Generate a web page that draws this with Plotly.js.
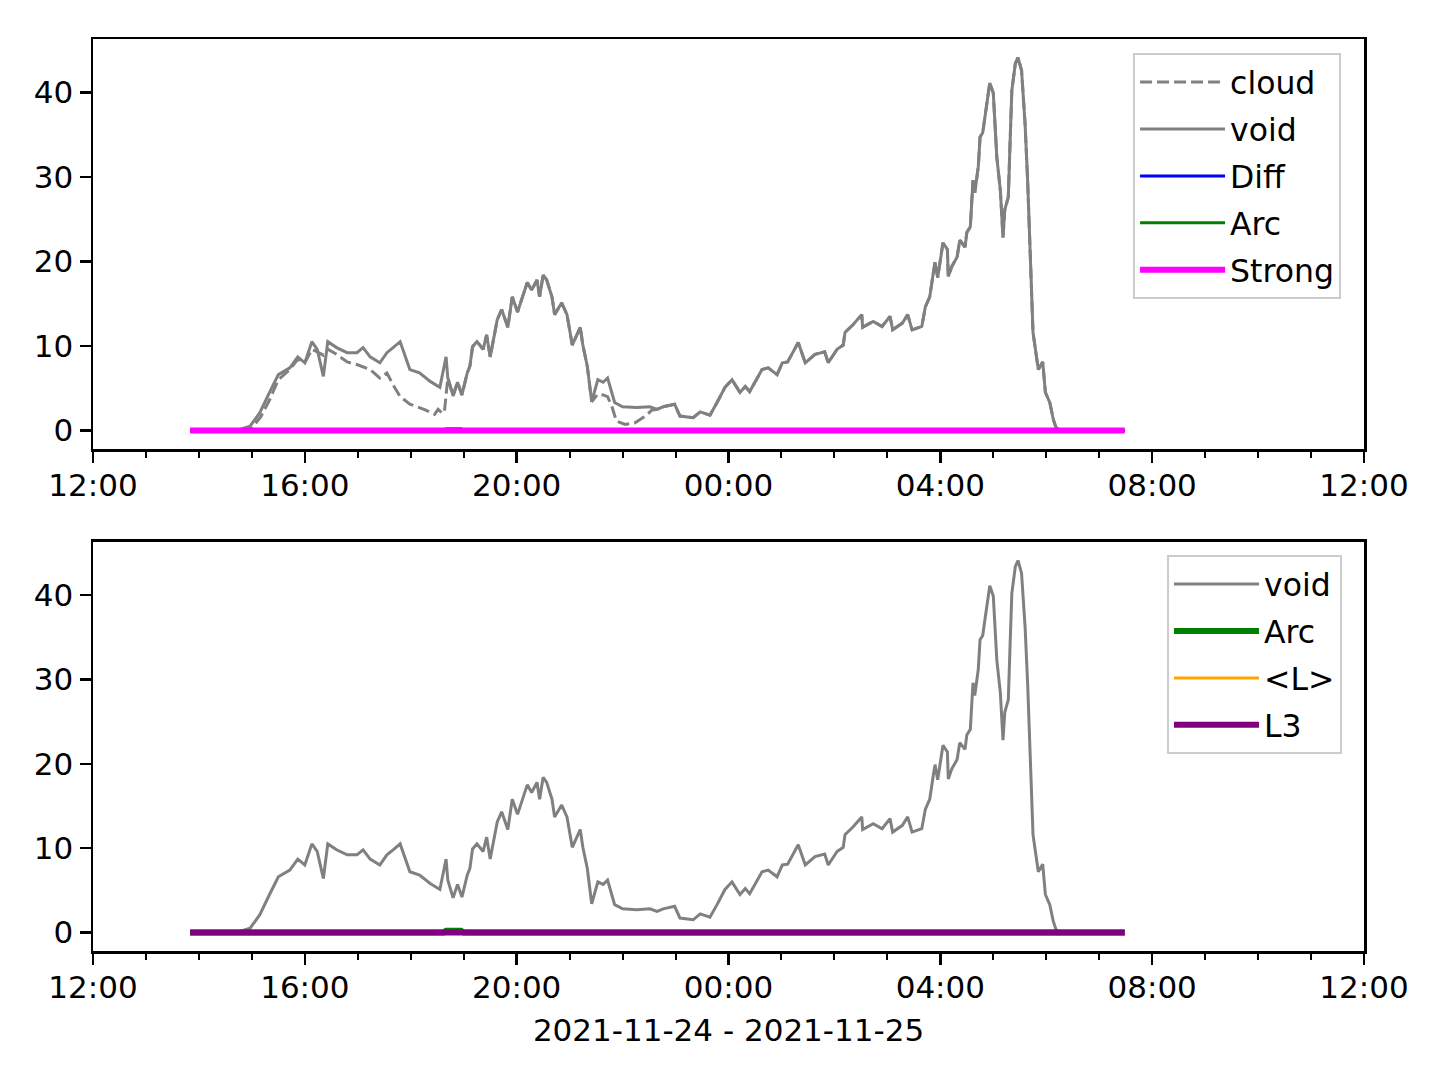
<!DOCTYPE html>
<html>
<head>
<meta charset="utf-8">
<script src="https://cdn.plot.ly/plotly-3.0.1.min.js"></script>
<style>html,body{margin:0;padding:0;background:#fff;}#chart{width:1440px;height:1080px;}</style>
</head>
<body>
<div id="chart"></div>
<script>
// ---- data (times are HH:MM; 12:00-23:59 on 2021-11-24, 00:00-11:59 on 2021-11-25) ----
const voidTimes = ["13:50","14:43","14:58","15:09","15:20","15:30","15:43","15:52","16:00","16:08","16:14","16:21","16:26","16:36","16:48","16:59","17:06","17:14","17:25","17:33","17:40","17:48","17:59","18:10","18:22","18:33","18:40","18:42","18:48","18:53","18:58","19:04","19:07","19:10","19:15","19:22","19:26","19:30","19:38","19:43","19:50","19:55","20:01","20:12","20:17","20:23","20:26","20:30","20:34","20:40","20:43","20:51","20:57","21:03","21:12","21:15","21:20","21:25","21:32","21:38","21:43","21:51","22:00","22:16","22:31","22:39","22:46","22:59","23:05","23:20","23:28","23:39","23:47","23:56","00:04","00:13","00:19","00:24","00:38","00:45","00:55","01:01","01:07","01:19","01:27","01:38","01:49","01:53","02:03","02:10","02:12","02:21","02:31","02:32","02:44","02:54","03:03","03:06","03:17","03:23","03:28","03:39","03:43","03:48","03:52","03:54","03:57","04:03","04:08","04:09","04:13","04:19","04:22","04:28","04:30","04:34","04:37","04:39","04:43","04:45","04:48","04:53","04:56","05:00","05:02","05:04","05:08","05:11","05:13","05:17","05:19","05:21","05:25","05:28","05:32","05:36","05:39","05:42","05:45","05:51","05:56","05:59","06:04","06:08","06:11","06:15","07:29"];
const voidVals = [0,0,0.5,2.1,4.5,6.6,7.4,8.7,8.0,10.5,9.6,6.4,10.5,9.8,9.2,9.2,9.8,8.7,8.0,9.2,9.8,10.5,7.2,6.8,5.8,5.1,8.7,6.2,4.1,5.7,4.2,6.8,7.6,9.9,10.5,9.6,11.3,8.7,13.1,14.3,12.2,15.8,14.0,17.5,16.6,17.8,15.8,18.4,17.8,15.8,13.7,15.1,13.7,10.1,12.2,10.1,7.6,3.4,6.0,5.7,6.2,3.3,2.8,2.7,2.8,2.5,2.8,3.1,1.7,1.5,2.2,1.8,3.3,5.1,6.0,4.5,5.2,4.6,7.2,7.4,6.6,8.0,8.1,10.4,8.0,9.0,9.3,8.0,9.6,10.1,11.6,12.5,13.7,12.2,12.9,12.3,13.5,11.9,12.7,13.7,11.9,12.3,14.6,15.8,18.6,19.9,18.1,22.2,21.4,18.2,19.4,20.5,22.5,21.7,23.4,24.1,29.6,28.1,31.2,34.7,35.2,39.1,41.1,39.9,36.3,32.3,28.4,22.8,26.1,27.6,34.0,40.2,43.4,44.1,42.6,36.3,29.3,19.0,11.6,7.2,8.1,4.5,3.3,1.3,0.35,0,0];

const cloudTimes = ["13:50","14:45","15:00","15:10","15:20","15:30","15:43","15:52","16:00","16:08","16:14","16:21","16:26","16:36","16:48","16:59","17:14","17:25","17:33","17:40","17:48","17:59","18:15","18:27","18:31","18:35","18:38","18:41","18:42","18:48","18:53","18:58","19:04","19:07","19:10","19:15","19:22","19:26","19:30","19:38","19:43","19:50","19:55","20:01","20:12","20:17","20:23","20:26","20:30","20:34","20:40","20:43","20:51","20:57","21:03","21:12","21:15","21:20","21:25","21:32","21:38","21:43","21:48","21:53","22:03","22:14","22:26","22:33","22:39","22:46","22:59","23:05","23:20","23:28","23:39","23:47","23:56","00:04","00:13","00:19","00:24","00:38","00:45","00:55","01:01","01:07","01:19","01:27","01:38","01:49","01:53","02:03","02:10","02:12","02:21","02:31","02:32","02:44","02:54","03:03","03:06","03:17","03:23","03:28","03:39","03:43","03:48","03:52","03:54","03:57","04:03","04:08","04:09","04:13","04:19","04:22","04:28","04:30","04:34","04:37","04:39","04:43","04:45","04:48","04:53","04:56","05:00","05:02","05:04","05:08","05:11","05:13","05:17","05:19","05:21","05:25","05:28","05:32","05:36","05:39","05:42","05:45","05:51","05:56","05:59","06:04","06:08","06:11","06:15","07:29"];
const cloudVals = [0,0,0.3,1.6,3.6,6.0,7.2,8.4,8.0,9.6,9.3,8.9,9.6,9.0,8.1,7.8,7.2,6.2,6.8,5.4,4.0,3.1,2.5,1.9,2.5,2.1,2.1,5.5,6.2,4.1,5.7,4.2,6.8,7.6,9.9,10.5,9.6,11.3,8.7,13.1,14.3,12.2,15.8,14.0,17.5,16.6,17.8,15.8,18.4,17.8,15.8,13.7,15.1,13.7,10.1,12.2,10.1,7.6,3.4,4.3,4.2,4.0,2.8,1.1,0.7,0.9,1.7,2.4,2.5,2.8,3.1,1.7,1.5,2.2,1.8,3.3,5.1,6.0,4.5,5.2,4.6,7.2,7.4,6.6,8.0,8.1,10.4,8.0,9.0,9.3,8.0,9.6,10.1,11.6,12.5,13.7,12.2,12.9,12.3,13.5,11.9,12.7,13.7,11.9,12.3,14.6,15.8,18.6,19.9,18.1,22.2,21.4,18.2,19.4,20.5,22.5,21.7,23.4,24.1,29.6,28.1,31.2,34.7,35.2,39.1,41.1,39.9,36.3,32.3,28.4,22.8,26.1,27.6,34.0,40.2,43.4,44.1,42.6,36.3,29.3,19.0,11.6,7.2,8.1,4.5,3.3,1.3,0.35,0,0];

const flatTimes = ["13:50","07:29"];
const diffVals = [0,0];
const strongVals = [0,0];
const arcTimes = ["13:50","18:37","18:40","18:57","19:00","07:29"];
const arcVals = [0,0,0.2,0.2,0,0];
const lMeanVals = [0,0];
const l3Vals = [0,0];

const xTickLabels = ["12:00","16:00","20:00","00:00","04:00","08:00","12:00"];
const yTickVals = [0,10,20,30,40];
const dateLabel = "2021-11-24 - 2021-11-25";

// ---- helpers ----
function toDate(hm){
  const h = parseInt(hm.slice(0,2),10);
  return (h >= 12 ? "2021-11-24 " : "2021-11-25 ") + hm;
}
const tx = a => a.map(toDate);

const FONT = "DejaVu Sans, sans-serif";
const FS = 31;
const LFS = 31.5;
const GREY = "#808080";

function tr(x, y, name, color, width, axis, legend, extra){
  return Object.assign({
    x: tx(x), y: y, name: name, mode: "lines",
    line: {color: color, width: width},
    xaxis: "x" + axis, yaxis: "y" + axis, legend: legend,
    legendgroup: legend + name
  }, extra || {});
}

const traces = [
  tr(cloudTimes, cloudVals, "cloud", GREY, 3, "", "legend", {line: {color: GREY, width: 3, dash: "12px,5px"}}),
  tr(voidTimes, voidVals, "void", GREY, 3, "", "legend"),
  tr(flatTimes, diffVals, "Diff", "#0000ff", 3, "", "legend"),
  tr(arcTimes, arcVals, "Arc", "#008000", 3, "", "legend"),
  tr(flatTimes, strongVals, "Strong", "#ff00ff", 6, "", "legend"),

  tr(voidTimes, voidVals, "void", GREY, 3, "2", "legend2"),
  tr(arcTimes, arcVals, "Arc", "#008000", 6, "2", "legend2"),
  tr(flatTimes, lMeanVals, "<L>", "#ffa500", 3, "2", "legend2"),
  tr(flatTimes, l3Vals, "L3", "#800080", 6, "2", "legend2")
];

const tickVals = ["2021-11-24 12:00","2021-11-24 16:00","2021-11-24 20:00","2021-11-25 00:00","2021-11-25 04:00","2021-11-25 08:00","2021-11-25 12:00"];

function xAxis(anchor, title){
  const ax = {
    type: "date", anchor: anchor, domain: [0, 1],
    range: ["2021-11-24 12:00", "2021-11-25 12:00"],
    tickmode: "array", tickvals: tickVals, ticktext: xTickLabels,
    ticks: "outside", ticklen: 11, tickwidth: 2.5, tickcolor: "#000",
    ticklabelstandoff: -4,
    minor: {dtick: 3600000, tick0: "2021-11-24 12:00", ticks: "outside", ticklen: 6, tickwidth: 2, tickcolor: "#000", showgrid: false},
    showline: true, mirror: true, linecolor: "#000", linewidth: 2.5,
    showgrid: false, zeroline: false,
    tickfont: {family: FONT, size: FS, color: "#000"}
  };
  if (title) ax.title = {text: title, font: {family: FONT, size: FS, color: "#000"}, standoff: 16};
  return ax;
}
function yAxis(anchor, domain){
  return {
    anchor: anchor, domain: domain,
    range: [-2.2, 46.3],
    tickmode: "array", tickvals: yTickVals, ticktext: yTickVals.map(String),
    ticks: "outside", ticklen: 11, tickwidth: 2.5, tickcolor: "#000",
    showline: true, mirror: true, linecolor: "#000", linewidth: 2.5,
    showgrid: false, zeroline: false,
    tickfont: {family: FONT, size: FS, color: "#000"}
  };
}

const legendBase = {
  bgcolor: "rgba(255,255,255,0.8)", bordercolor: "#cccccc", borderwidth: 2,
  font: {family: FONT, size: LFS, color: "#000"},
  xanchor: "left", yanchor: "top", itemwidth: 85,
  traceorder: "grouped", tracegroupgap: 3
};

const layout = {
  width: 1440, height: 1080,
  paper_bgcolor: "#fff", plot_bgcolor: "#fff",
  margin: {l: 93, r: 76, t: 39, b: 129},
  font: {family: FONT, size: FS, color: "#000"},
  showlegend: true,
  xaxis: xAxis("y", null),
  yaxis: yAxis("x", [0.5504, 1]),
  xaxis2: xAxis("y2", dateLabel),
  yaxis2: yAxis("x2", [0, 0.4485]),
  legend: Object.assign({}, legendBase, {x: 0.8183, y: 0.9846}),
  legend2: Object.assign({}, legendBase, {x: 0.845, y: 0.4342})
};

Plotly.newPlot("chart", traces, layout, {staticPlot: true});
</script>
</body>
</html>
